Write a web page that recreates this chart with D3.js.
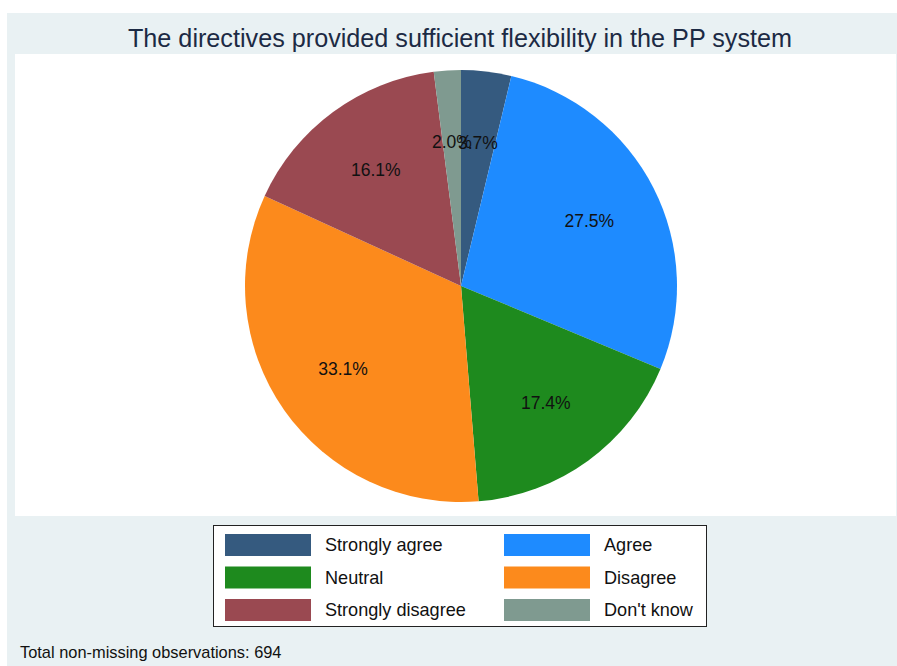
<!DOCTYPE html>
<html>
<head>
<meta charset="utf-8">
<script src="https://cdn.jsdelivr.net/npm/d3@7"></script>
<style>
  html, body { margin: 0; padding: 0; background: #ffffff; }
  svg { display: block; font-family: "Liberation Sans", Arial, sans-serif; }
</style>
</head>
<body>
<div id="chart"></div>
<script>
// answers in plotting order (clockwise from 12 o'clock)
const categories = ['Strongly agree', 'Agree', 'Neutral', 'Disagree', 'Strongly disagree', "Don't know"];
const counts = [26, 191, 121, 230, 112, 14];
const colors = ['#355a7f', '#1e8bff', '#1e8a1e', '#fc8a1c', '#9a4951', '#7f9a90'];
const legendOrder = [0, 1, 2, 3, 4, 5];

const width = 897;
const height = 666;
const total = d3.sum(counts);

const svg = d3.select('#chart').append('svg')
  .attr('width', width)
  .attr('height', height);

// outer graph region and white plot region
svg.append('rect').attr('x', 7).attr('y', 13).attr('width', width - 7).attr('height', height - 13).attr('fill', '#e9f1f3');
svg.append('rect').attr('x', 15).attr('y', 54).attr('width', 881).attr('height', 462).attr('fill', '#ffffff');

svg.append('text')
  .attr('x', 460)
  .attr('y', 47)
  .attr('text-anchor', 'middle')
  .attr('font-size', 25.2)
  .attr('fill', '#1c2a44')
  .text('The directives provided sufficient flexibility in the PP system');

const cx = 461;
const cy = 286;
const radius = 216;

const pie = d3.pie().sort(null).value((d) => d);
const arcs = pie(counts);
const arc = d3.arc().innerRadius(0).outerRadius(radius);
const labelArc = d3.arc().innerRadius(radius * 2 / 3).outerRadius(radius * 2 / 3);

const plot = svg.append('g').attr('transform', `translate(${cx},${cy})`);

plot.selectAll('path')
  .data(arcs)
  .join('path')
  .attr('d', arc)
  .attr('fill', (d, i) => colors[i]);

// Stata draws these labels on top of each other for the two thin slices; keep that
plot.selectAll('text')
  .data(arcs)
  .join('text')
  .attr('transform', (d) => `translate(${labelArc.centroid(d)})`)
  .attr('text-anchor', 'middle')
  .attr('dy', '0.35em')
  .attr('font-size', 17.5)
  .attr('fill', '#111111')
  .text((d) => `${d3.format('.1f')(d.value / total * 100)}%`);

// legend, two columns
const legend = svg.append('g');
legend.append('rect')
  .attr('x', 213.5).attr('y', 525.5).attr('width', 493).attr('height', 101)
  .attr('fill', '#ffffff').attr('stroke', '#222222').attr('stroke-width', 1);

const colX = d3.scaleOrdinal().domain([0, 1]).range([225, 504]);
const rowY = d3.scalePoint().domain([0, 1, 2]).range([545, 610]);

const item = legend.selectAll('g.item')
  .data(legendOrder)
  .join('g')
  .attr('class', 'item')
  .attr('transform', (d, i) => `translate(${colX(i % 2)},${rowY(Math.floor(i / 2))})`);

item.append('rect')
  .attr('x', 0).attr('y', -11).attr('width', 86).attr('height', 22)
  .attr('fill', (d) => colors[d]);

item.append('text')
  .attr('x', 100)
  .attr('dy', '0.35em')
  .attr('font-size', 18.1)
  .attr('fill', '#111111')
  .text((d) => categories[d]);

svg.append('text')
  .attr('x', 20)
  .attr('y', 658)
  .attr('font-size', 16.4)
  .attr('fill', '#111111')
  .text(`Total non-missing observations: ${total}`);
</script>
</body>
</html>
